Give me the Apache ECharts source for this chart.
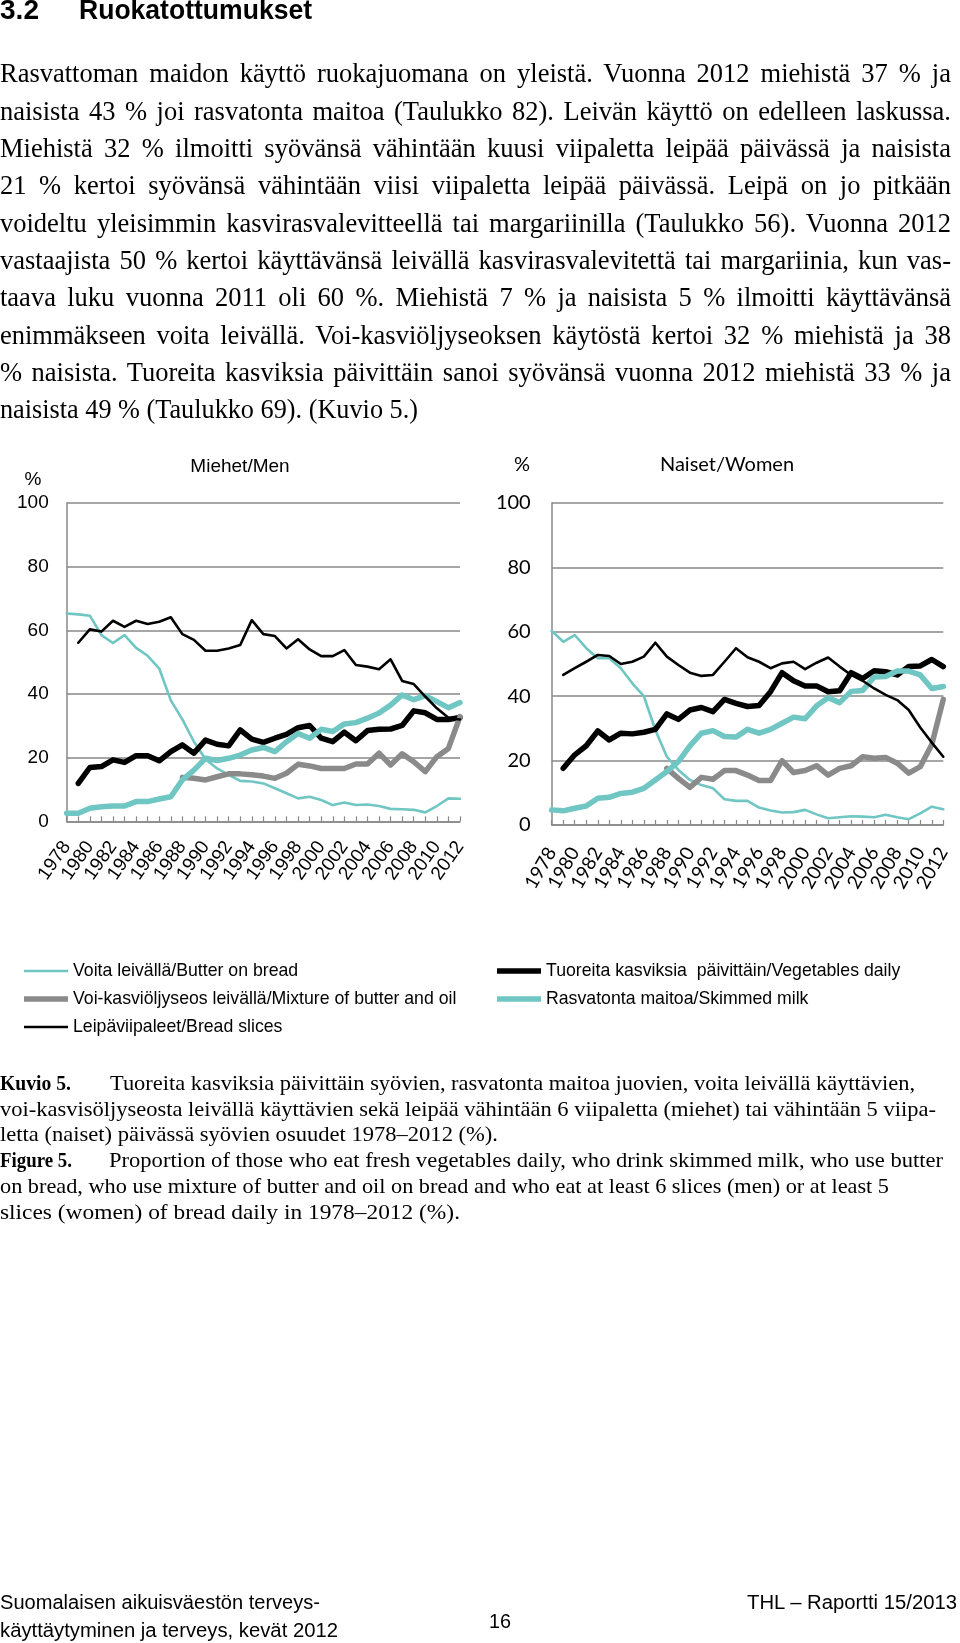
<!DOCTYPE html>
<html><head><meta charset="utf-8">
<script src="https://cdn.jsdelivr.net/npm/echarts@6/dist/echarts.min.js"></script>
<style>
html,body{margin:0;padding:0;background:#fff;}
#page{position:relative;width:960px;height:1643px;overflow:hidden;background:#fff;}
#chart{position:absolute;left:0;top:0;width:960px;height:1643px;}
.tl{position:absolute;white-space:nowrap;color:#000;z-index:2;}
.tl span{display:inline-block;transform-origin:0 50%;}
</style></head>
<body><div id="page"><div id="chart"></div></div>
<script>
// ---------- DATA ----------
const years = ['1978','1979','1980','1981','1982','1983','1984','1985','1986','1987','1988','1989','1990','1991','1992','1993','1994','1995','1996','1997','1998','1999','2000','2001','2002','2003','2004','2005','2006','2007','2008','2009','2010','2011','2012'];
const yTicks = [0, 20, 40, 60, 80, 100];

const seriesNames = {
  butter: 'Voita leivällä/Butter on bread',
  mix: 'Voi-kasviöljyseos leivällä/Mixture of butter and oil',
  bread: 'Leipäviipaleet/Bread slices',
  veg: 'Tuoreita kasviksia  päivittäin/Vegetables daily',
  milk: 'Rasvatonta maitoa/Skimmed milk'
};

// Men
const menButter = [65.3,65,64.6,58.5,56,58.5,54.5,52,48,38,32,25,19.5,16.6,14.6,12.7,12.5,11.9,10.4,8.8,7.2,7.7,6.7,5.1,5.9,5.1,5.3,4.8,3.9,3.8,3.6,2.8,4.8,7.2,7.1];
const menVeg = [null,11.9,16.9,17.2,19.3,18.5,20.6,20.6,19,21.9,24,21.4,25.5,24.2,23.7,28.7,25.8,24.8,26.1,27.3,29.4,30.1,26.1,25,28,25.3,28.5,28.9,29,30.1,34.7,34.1,32,32,32.6];
const menMix = [null,null,null,null,null,null,null,null,null,null,13.8,13.5,13,14,14.9,14.9,14.6,14.2,13.5,15.1,17.9,17.4,16.6,16.6,16.6,18,18,21.4,17.7,21.2,18.7,15.6,20.3,22.9,32.9];
const menMilk = [2.5,2.5,4.1,4.6,4.8,4.8,6.2,6.2,7,7.7,13,16.1,19.8,19.1,19.8,20.8,22.4,23.2,21.9,25,27.6,26.1,28.9,28.2,30.6,31,32.4,34,36.5,39.7,38.2,39.5,37.6,35.7,37.3];
const menBread = [null,56.1,60.3,59.6,63,61.1,63,62,62.7,64.1,58.8,57,53.6,53.6,54.3,55.4,63.2,58.8,58.2,54.3,57.2,54,51.9,51.9,53.8,49.1,48.6,47.8,50.9,44.1,43.1,39.2,35.5,32.5,32];

// Women
const womenButter = [60.3,56.9,59,54.9,51.8,51.8,48.7,44,40,29.5,21.2,17.1,14,12.4,11.4,8,7.5,7.5,5.4,4.5,3.9,4,4.7,3.3,2.1,2.4,2.7,2.6,2.4,3.2,2.4,1.8,3.6,5.7,4.9];
const womenVeg = [null,17.6,21.8,24.6,29.2,26.4,28.5,28.3,28.8,29.7,34.5,32.8,35.7,36.5,35.2,39,37.8,36.8,37.1,41.4,47.3,44.8,43.2,43.2,41.4,41.7,47.3,45.5,47.9,47.6,46.6,49.2,49.4,51.4,49.2];
const womenMix = [null,null,null,null,null,null,null,null,null,null,17.6,14.5,11.7,14.8,14.2,16.9,16.9,15.5,13.8,13.8,20,16.3,16.9,18.4,15.5,17.6,18.4,21.2,20.7,21,19.2,16.1,18.1,25,39];
const womenMilk = [4.7,4.4,5.2,5.9,8.3,8.6,9.8,10.2,11.4,14,16.6,19.7,24.6,28.5,29.3,27.5,27.3,29.7,28.5,29.7,31.6,33.5,33,37,39.5,38,41.5,41.8,46,46.1,47.8,47.8,46.6,42.4,43];
const womenBread = [null,46.6,48.7,50.7,52.8,52.5,50,50.7,52.3,56.6,52.3,49.7,47.3,46.3,46.6,50.7,54.9,52.1,50.7,48.7,50.2,50.7,48.4,50.4,52,49.2,46.6,44.8,42.4,40.4,38.8,35.7,30.3,25.6,21.2];

// ---------- TEXT ----------
const headingNum = '3.2';
const headingText = 'Ruokatottumukset';
const bodyLines = [
 'Rasvattoman maidon käyttö ruokajuomana on yleistä. Vuonna 2012 miehistä 37 % ja',
 'naisista 43 % joi rasvatonta maitoa (Taulukko 82). Leivän käyttö on edelleen laskussa.',
 'Miehistä 32 % ilmoitti syövänsä vähintään kuusi viipaletta leipää päivässä ja naisista',
 '21 % kertoi syövänsä vähintään viisi viipaletta leipää päivässä. Leipä on jo pitkään',
 'voideltu yleisimmin kasvirasvalevitteellä tai margariinilla (Taulukko 56). Vuonna 2012',
 'vastaajista 50 % kertoi käyttävänsä leivällä kasvirasvalevitettä tai margariinia, kun vas-',
 'taava luku vuonna 2011 oli 60 %. Miehistä 7 % ja naisista 5 % ilmoitti käyttävänsä',
 'enimmäkseen voita leivällä. Voi-kasviöljyseoksen käytöstä kertoi 32 % miehistä ja 38',
 '% naisista. Tuoreita kasviksia päivittäin sanoi syövänsä vuonna 2012 miehistä 33 % ja',
 'naisista 49 % (Taulukko 69). (Kuvio 5.)'
];
const captionLines = [
 'Tuoreita kasviksia päivittäin syövien, rasvatonta maitoa juovien, voita leivällä käyttävien,',
 'voi-kasvisöljyseosta leivällä käyttävien sekä leipää vähintään 6 viipaletta (miehet) tai vähintään 5 viipa-',
 'letta (naiset) päivässä syövien osuudet 1978–2012 (%).',
 'Proportion of those who eat fresh vegetables daily, who drink skimmed milk, who use butter',
 'on bread, who use mixture of butter and oil on bread and who eat at least 6 slices (men) or at least 5',
 'slices (women) of bread daily in 1978–2012 (%).'
];

// ---------- PAGE TEXT LAYOUT ----------
const page = document.getElementById('page');
const SERIF = '"Liberation Serif", "Times New Roman", serif';
const SANS = '"Liberation Sans", Arial, sans-serif';
function addLine(L){
  const d = document.createElement('div'); d.className = 'tl';
  d.style.left = L.x + 'px';
  d.style.top = (L.y - L.fs * 0.65) + 'px';
  d.style.font = (L.bold ? 'bold ' : '') + L.fs + 'px ' + L.ff;
  d.style.lineHeight = (L.fs * 1.2) + 'px';
  const s = document.createElement('span'); s.textContent = L.t; d.appendChild(s);
  page.appendChild(d);
  const nat = s.getBoundingClientRect().width;
  if (L.m === 'j') {
    const n = (L.t.match(/ /g) || []).length;
    if (nat < L.w && n > 0) s.style.wordSpacing = ((L.w - nat) / n) + 'px';
    else s.style.transform = 'scaleX(' + (L.w / nat) + ')';
  } else if (L.m === 'fit') {
    s.style.transform = 'scaleX(' + (L.w / nat) + ')';
  }
}
addLine({t: headingNum, x: 0, y: 12, w: 39, fs: 27, ff: SANS, bold: true, m: 'fit'});
addLine({t: headingText, x: 79, y: 12, w: 233, fs: 27, ff: SANS, bold: true, m: 'fit'});
bodyLines.forEach((t, i) => {
  const last = i === bodyLines.length - 1;
  addLine({t, x: 0, y: 75.4 + i * 37.35, w: last ? 418 : 951, fs: 26.5, ff: SERIF, m: last ? 'fit' : 'j'});
});
const capY = [1084, 1110, 1135, 1161, 1187, 1213];
const capX = [110, 0, 0, 109, 0, 0];
const capW = [805, 936, 498, 834, 889, 460];
addLine({t: 'Kuvio 5.', x: 0, y: capY[0], w: 71, fs: 22, ff: SERIF, bold: true, m: 'fit'});
addLine({t: 'Figure 5.', x: 0, y: capY[3], w: 72, fs: 22, ff: SERIF, bold: true, m: 'fit'});
captionLines.forEach((t, i) => addLine({t, x: capX[i], y: capY[i], w: capW[i], fs: 22, ff: SERIF, m: 'fit'}));
addLine({t: 'Suomalaisen aikuisväestön terveys-', x: 0, y: 1603, w: 320, fs: 20, ff: SANS, m: 'fit'});
addLine({t: 'käyttäytyminen ja terveys, kevät 2012', x: 0, y: 1631, w: 338, fs: 20, ff: SANS, m: 'fit'});
addLine({t: '16', x: 489, y: 1622, w: 22, fs: 20, ff: SANS, m: 'fit'});
addLine({t: 'THL – Raportti 15/2013', x: 747, y: 1603, w: 210, fs: 20, ff: SANS, m: 'fit'});

// ---------- CHART ----------
const TEAL = '#6fc6c2', GRAY = '#8a8a8a', BLACK = '#000000', AXIS = '#888888';
const THIN = 2.6, THICK = 5.5;
const LATO = 'Lato, "Liberation Sans", sans-serif';
function line(name, data, color, width, idx){
  return {type: 'line', name, data, xAxisIndex: idx, yAxisIndex: idx, symbol: 'none', showSymbol: false,
    connectNulls: false, silent: true, animation: false,
    lineStyle: {color, width, join: 'round', cap: 'round'}, itemStyle: {color, borderWidth: 0},
    emphasis: {disabled: true}};
}
function seriesFor(idx, b, v, mx, mk, br){
  return [
    line(seriesNames.butter, b, TEAL, THIN, idx),
    line(seriesNames.veg, v, BLACK, THICK, idx),
    line(seriesNames.mix, mx, GRAY, THICK, idx),
    line(seriesNames.milk, mk, TEAL, THICK, idx),
    line(seriesNames.bread, br, BLACK, THIN, idx)
  ];
}
function xAxis(idx, font, rot, margin){
  return {type: 'category', gridIndex: idx, data: years, boundaryGap: false,
    axisLine: {lineStyle: {color: AXIS, width: 1.5}},
    axisTick: {inside: true, length: 5, interval: 0, lineStyle: {color: AXIS, width: 1.2}},
    axisLabel: {interval: 1, rotate: rot, fontSize: 19, fontFamily: font, color: '#000', margin}};
}
function yAxis(idx, font, margin){
  return {type: 'value', gridIndex: idx, min: yTicks[0], max: yTicks[yTicks.length - 1], interval: yTicks[1] - yTicks[0],
    axisLine: {show: true, lineStyle: {color: AXIS, width: 1.5}}, axisTick: {show: false},
    splitLine: {lineStyle: {color: AXIS, width: 1.5}},
    axisLabel: {fontSize: font === LATO ? 20 : 19, fontFamily: font, color: '#000', margin}};
}
const ICON_THIN = 'path://M0,0H44V2.6H0Z';
const ICON_THICK = 'path://M0,0H44V5.5H0Z';
const legendBase = {orient: 'vertical', top: 957, itemWidth: 44, itemHeight: 14, itemGap: 10,
  selectedMode: false, symbolKeepAspect: true, itemStyle: {borderWidth: 0},
  textStyle: {fontSize: 17.7, fontFamily: SANS, color: '#000', lineHeight: 16}};

const chart = echarts.init(document.getElementById('chart'), null, {renderer: 'canvas'});
chart.setOption({
  backgroundColor: '#ffffff',
  animation: false,
  grid: [
    {left: 66.7, top: 503, width: 393.3, height: 318.3},
    {left: 551.7, top: 503, width: 391.6, height: 322}
  ],
  xAxis: [xAxis(0, SANS, 55, 22), xAxis(1, LATO, 60, 24)],
  yAxis: [yAxis(0, SANS, 18), yAxis(1, LATO, 21)],
  legend: [
    Object.assign({}, legendBase, {left: 19, data: [
      {name: seriesNames.butter, icon: ICON_THIN},
      {name: seriesNames.mix, icon: ICON_THICK},
      {name: seriesNames.bread, icon: ICON_THIN}]}),
    Object.assign({}, legendBase, {left: 492, data: [
      {name: seriesNames.veg, icon: ICON_THICK},
      {name: seriesNames.milk, icon: ICON_THICK}]})
  ],
  graphic: [
    {type: 'text', x: 240, y: 467, style: {text: 'Miehet/Men', fontSize: 19, fontFamily: SANS, fill: '#000', align: 'center', verticalAlign: 'middle'}},
    {type: 'text', x: 33, y: 480, style: {text: '%', fontSize: 19, fontFamily: SANS, fill: '#000', align: 'center', verticalAlign: 'middle'}},
    {type: 'text', x: 727, y: 465, style: {text: 'Naiset/Women', fontSize: 20, fontFamily: LATO, fill: '#000', align: 'center', verticalAlign: 'middle'}},
    {type: 'text', x: 522, y: 465, style: {text: '%', fontSize: 20, fontFamily: LATO, fill: '#000', align: 'center', verticalAlign: 'middle'}}
  ],
  series: [].concat(
    seriesFor(0, menButter, menVeg, menMix, menMilk, menBread),
    seriesFor(1, womenButter, womenVeg, womenMix, womenMilk, womenBread)
  )
});
</script></body></html>
